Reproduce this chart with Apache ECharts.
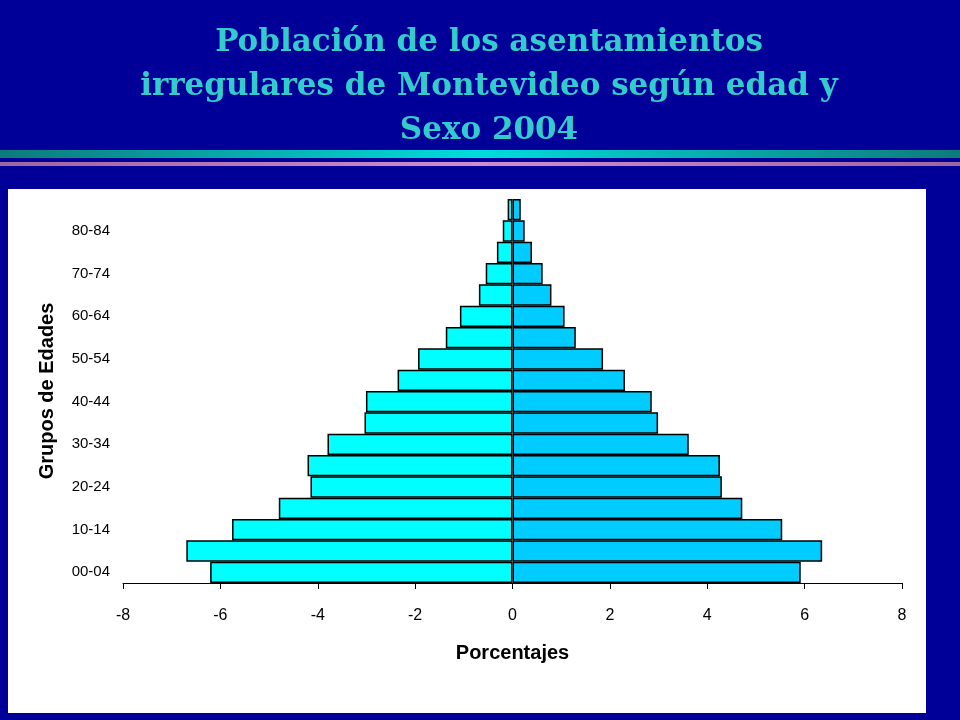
<!DOCTYPE html>
<html>
<head>
<meta charset="utf-8">
<script src="https://cdn.jsdelivr.net/npm/echarts@6/dist/echarts.min.js"></script>
<style>
  html, body { margin: 0; padding: 0; background: #000099; }
  #chart { width: 960px; height: 720px; }
</style>
</head>
<body>
<div id="chart"></div>
<script>
  // Age groups, bottom to top
  const ageGroups = ["00-04", "05-09", "10-14", "15-19", "20-24", "25-29", "30-34", "35-39", "40-44",
    "45-49", "50-54", "55-59", "60-64", "65-69", "70-74", "75-79", "80-84", "85 y más"];
  // Left side (negative percentages)
  const leftValues = [-6.21, -6.70, -5.76, -4.80, -4.15, -4.21, -3.80, -3.04, -3.01,
    -2.36, -1.94, -1.37, -1.08, -0.69, -0.55, -0.32, -0.20, -0.10];
  // Right side (positive percentages)
  const rightValues = [5.92, 6.36, 5.54, 4.72, 4.30, 4.26, 3.62, 2.99, 2.86,
    2.31, 1.86, 1.30, 1.07, 0.80, 0.62, 0.40, 0.25, 0.17];
  const xTicks = [-8, -6, -4, -2, 0, 2, 4, 6, 8];

  const chart = echarts.init(document.getElementById("chart"), null, { renderer: "canvas" });
  chart.setOption({
    animation: false,
    backgroundColor: "#000099",
    title: {
      text: "Población de los asentamientos\nirregulares de Montevideo según edad y\nSexo 2004",
      left: 484,
      top: 16,
      textAlign: "center",
      textStyle: {
        color: "#33CCCC",
        fontFamily: "DejaVu Serif",
        fontWeight: "bold",
        fontSize: 31,
        lineHeight: 44,
      },
    },
    graphic: [
      {
        type: "rect", z: -10, silent: true,
        shape: { x: 0, y: 150, width: 960, height: 8 },
        style: {
          fill: new echarts.graphic.LinearGradient(0, 0, 1, 0, [
            { offset: 0, color: "#0E7A7A" },
            { offset: 0.5, color: "#00DDDD" },
            { offset: 1, color: "#0E7A7A" },
          ]),
        },
      },
      {
        type: "rect", z: -10, silent: true,
        shape: { x: 0, y: 162, width: 960, height: 4 },
        style: {
          fill: new echarts.graphic.LinearGradient(0, 0, 1, 0, [
            { offset: 0, color: "#A0649E" },
            { offset: 0.5, color: "#D28CD0" },
            { offset: 1, color: "#A0649E" },
          ]),
        },
      },
      {
        type: "rect", z: -10, silent: true,
        shape: { x: 8, y: 189, width: 918, height: 524 },
        style: { fill: "#FFFFFF" },
      },
    ],
    grid: { left: 123, right: 58, top: 199, bottom: 137 },
    xAxis: {
      type: "value",
      min: xTicks[0],
      max: xTicks[xTicks.length - 1],
      interval: 2,
      name: "Porcentajes",
      nameLocation: "middle",
      nameGap: 60,
      nameTextStyle: { color: "#000", fontFamily: "Liberation Sans", fontWeight: "bold", fontSize: 20 },
      axisLine: { show: true, onZero: false, lineStyle: { color: "#000", width: 1 } },
      axisTick: { show: true, length: 6, lineStyle: { color: "#000" } },
      axisLabel: { color: "#000", fontFamily: "Liberation Sans", fontSize: 16, margin: 25 },
      splitLine: { show: false },
    },
    yAxis: {
      type: "category",
      data: ageGroups,
      name: "Grupos de Edades",
      nameLocation: "middle",
      nameGap: 66,
      nameTextStyle: { color: "#000", fontFamily: "Liberation Sans", fontWeight: "bold", fontSize: 20 },
      axisLine: { show: false },
      axisTick: { show: false },
      axisLabel: { color: "#000", fontFamily: "Liberation Sans", fontSize: 15, interval: 1, margin: 13 },
      splitLine: { show: false },
    },
    series: [
      {
        name: "Hombres",
        type: "bar",
        data: leftValues,
        barGap: "-100%",
        barCategoryGap: "0%",
        itemStyle: { color: "#00FFFF", borderColor: "#000", borderWidth: 1.5 },
      },
      {
        name: "Mujeres",
        type: "bar",
        data: rightValues,
        barGap: "-100%",
        barCategoryGap: "0%",
        itemStyle: { color: "#00CCFF", borderColor: "#000", borderWidth: 1.5 },
      },
    ],
  });
</script>
</body>
</html>
